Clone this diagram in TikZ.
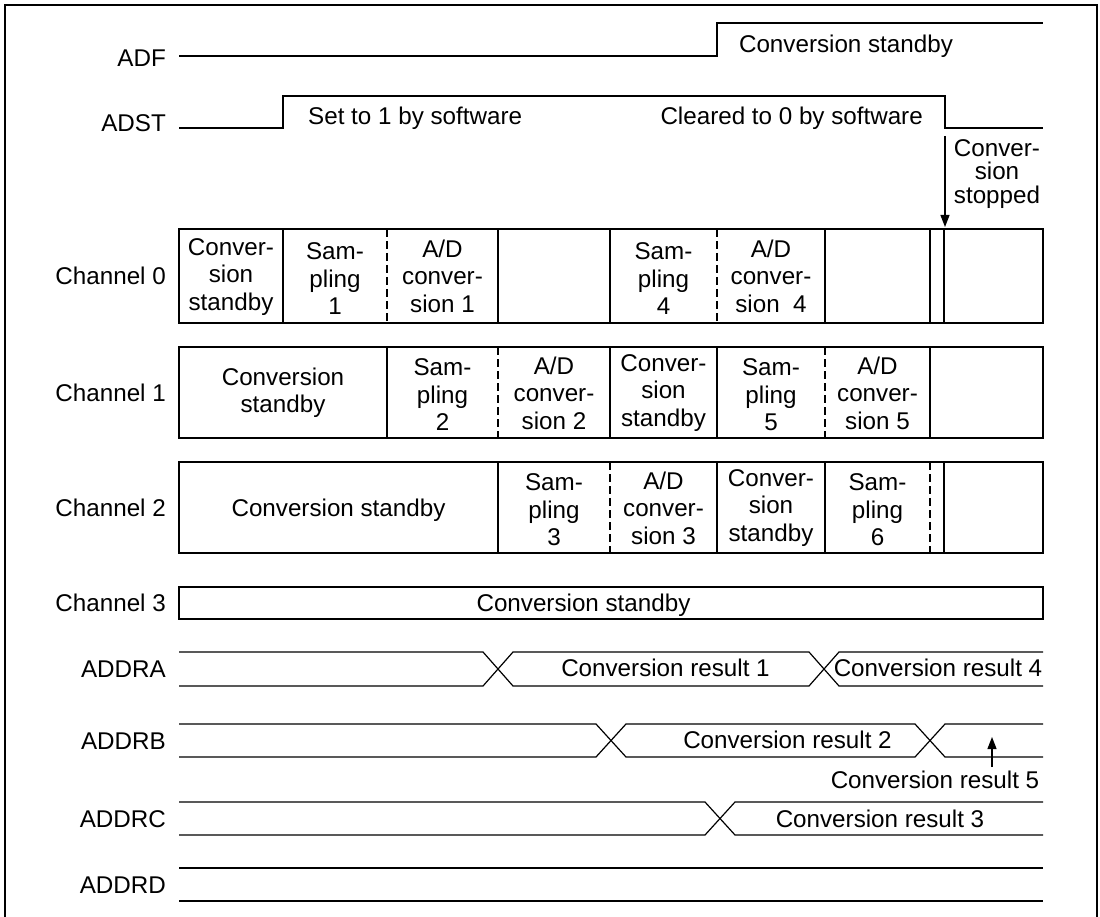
\documentclass[tikz,border=0pt]{standalone}
\usepackage{fontspec}
\setmainfont{Liberation Sans}
\usetikzlibrary{arrows.meta}
\begin{document}
\begin{tikzpicture}[x=1pt,y=-1pt,
  sig/.style={line width=1.2pt, black},
  dsh/.style={line width=1.1pt, black, dash pattern=on 8pt off 4pt},
  every node/.style={font=\fontsize{24.2}{27}\selectfont, inner sep=0pt},
  cell/.style={align=center, font=\fontsize{24.2}{27.5}\selectfont},
  lbl/.style={anchor=base east},
  tip/.style={-{Triangle[length=12pt,width=9pt]}}]
\useasboundingbox (0,0) rectangle (1100,917);
% frame
\draw[sig] (5,917) -- (5,5) -- (1097,5) -- (1097,917);

% row labels
\node[lbl] (lADF)  at (166,66.5) {ADF};
\node[lbl] (lADST) at (166,132) {ADST};
\node[lbl] (lch0)  at (166,284.5) {Channel 0};
\node[lbl] (lch1)  at (166,401) {Channel 1};
\node[lbl] (lch2)  at (166,516) {Channel 2};
\node[lbl] (lch3)  at (166,611.5) {Channel 3};
\node[lbl] (lA)    at (166,677.5) {ADDRA};
\node[lbl] (lB)    at (166,749) {ADDRB};
\node[lbl] (lC)    at (166,827) {ADDRC};
\node[lbl] (lD)    at (166,893) {ADDRD};

% ADF
\draw[sig] (179,56) -- (717,56) -- (717,23) -- (1043,23);
\node[anchor=base] (adfstb) at (846,53) {Conversion standby};
% ADST
\draw[sig] (179,128) -- (283,128) -- (283,96) -- (945,96) -- (945,128) -- (1043,128);
\node[anchor=base west] (set1) at (308,125) {Set to 1 by software};
\node[anchor=base east] (clr0) at (923,125) {Cleared to 0 by software};
\node[align=center, font=\fontsize{24.2}{23.5}\selectfont] (stopped) at (997,174) {Conver-\\sion\\stopped};
\coordinate (stopA) at (945,136);
\coordinate (stopB) at (945,227);
\draw[sig,tip] (stopA) -- (stopB);

% Channel 0
\draw[sig] (179,229) rectangle (1043,323);
\foreach \x in {283,498,610,825,930,944} \draw[sig] (\x,229) -- (\x,323);
\foreach \x in {387,717} \draw[dsh] (\x,229) -- (\x,323);
\node[cell] (c0a) at (231,277) {Conver-\\sion\\standby};
\node[cell] (c0b) at (335,279) {Sam-\\pling\\1};
\node[cell] (c0c) at (442.5,276) {A/D\\conver-\\sion 1};
\node[cell] (c0d) at (663.5,279) {Sam-\\pling\\4};
\node[cell] (c0e) at (771,276) {A/D\\conver-\\sion~~4};

% Channel 1
\draw[sig] (179,347) rectangle (1043,438);
\foreach \x in {387,610,717,930} \draw[sig] (\x,347) -- (\x,438);
\foreach \x in {498,825} \draw[dsh] (\x,347) -- (\x,438);
\node[cell] (c1a) at (283,392.5) {Conversion\\standby};
\node[cell] (c1b) at (442.5,395) {Sam-\\pling\\2};
\node[cell] (c1c) at (554,393) {A/D\\conver-\\sion 2};
\node[cell] (c1d) at (663.5,393) {Conver-\\sion\\standby};
\node[cell] (c1e) at (771,395) {Sam-\\pling\\5};
\node[cell] (c1f) at (877.5,393) {A/D\\conver-\\sion 5};

% Channel 2
\draw[sig] (179,462) rectangle (1043,553);
\foreach \x in {498,717,825,944} \draw[sig] (\x,462) -- (\x,553);
\foreach \x in {610,930} \draw[dsh] (\x,462) -- (\x,553);
\node[anchor=base] (c2a) at (338.5,516) {Conversion standby};
\node[cell] (c2b) at (554,510) {Sam-\\pling\\3};
\node[cell] (c2c) at (663.5,508) {A/D\\conver-\\sion 3};
\node[cell] (c2d) at (771,508) {Conver-\\sion\\standby};
\node[cell] (c2e) at (877.5,510) {Sam-\\pling\\6};

% Channel 3
\draw[sig] (179,587) rectangle (1043,619);
\node[anchor=base] (c3a) at (583.5,611.5) {Conversion standby};

% ADDRA
\draw[sig] (179,652) -- (483,652) -- (513,686) -- (809,686) -- (839,652) -- (1043,652);
\draw[sig] (179,686) -- (483,686) -- (513,652) -- (809,652) -- (839,686) -- (1043,686);
\node[anchor=base] (r1) at (665.5,676.5) {Conversion result 1};
\node[anchor=base] (r4) at (938,676.5) {Conversion result 4};

% ADDRB
\draw[sig] (179,724) -- (596,724) -- (626,757) -- (915,757) -- (945,724) -- (1043,724);
\draw[sig] (179,757) -- (596,757) -- (626,724) -- (915,724) -- (945,757) -- (1043,757);
\node[anchor=base] (r2) at (787.5,748.5) {Conversion result 2};
\node[anchor=base] (r5) at (935,788) {Conversion result 5};
\coordinate (r5a) at (992,767);
\coordinate (r5b) at (992,737);
\draw[sig,tip] (r5a) -- (r5b);

% ADDRC
\draw[sig] (179,802) -- (705,802) -- (735,835) -- (1043,835);
\draw[sig] (179,835) -- (705,835) -- (735,802) -- (1043,802);
\node[anchor=base] (r3) at (880,827) {Conversion result 3};

% ADDRD
\draw[sig] (179,868) -- (1043,868);
\draw[sig] (179,901) -- (1043,901);
\end{tikzpicture}
\end{document}
